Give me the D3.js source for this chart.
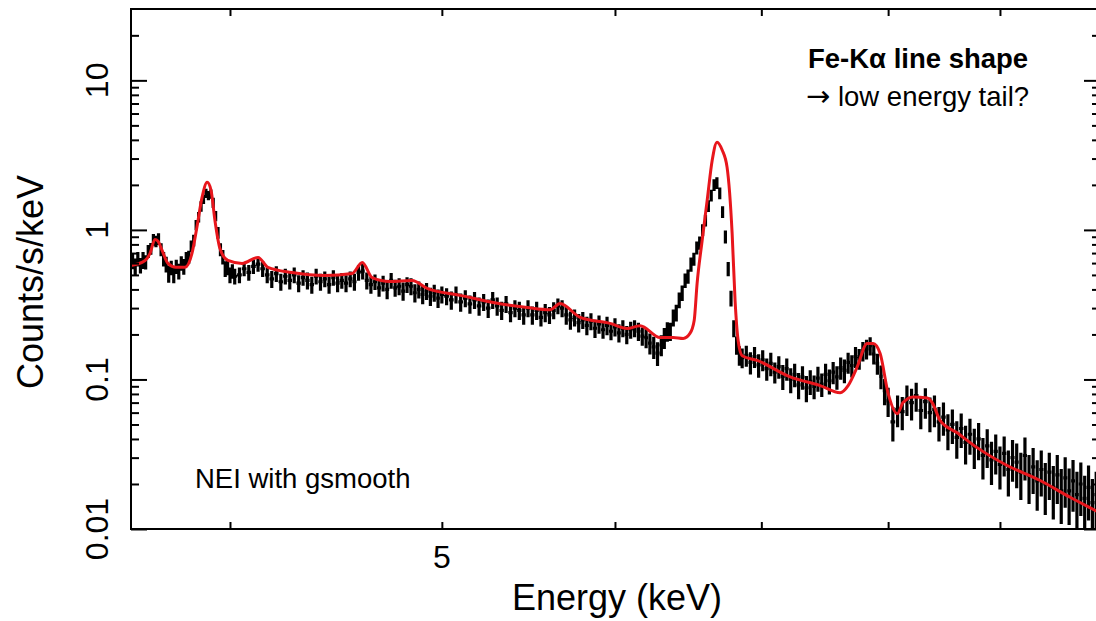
<!DOCTYPE html>
<html>
<head>
<meta charset="utf-8">
<script src="https://cdn.jsdelivr.net/npm/d3@7"></script>
<style>
  body { margin: 0; background: #fff; }
  svg { display: block; font-family: "Liberation Sans", Arial, Helvetica, sans-serif; }
</style>
</head>
<body>
<div class="spectrum"></div>
<script>
// observed spectrum (keV, counts/s/keV, relative error in %)
const energy = [
  3.61,3.62,3.63,3.64,3.65,3.66,3.67,3.68,3.69,3.70,
  3.71,3.72,3.73,3.74,3.75,3.76,3.77,3.78,3.79,3.80,
  3.81,3.82,3.83,3.84,3.85,3.86,3.87,3.88,3.89,3.90,
  3.91,3.92,3.93,3.94,3.95,3.96,3.97,3.98,3.99,4.00,
  4.01,4.02,
  4.04,4.06,4.08,4.10,4.12,4.14,4.16,4.18,4.20,4.22,4.24,4.26,
  4.28,4.30,4.32,4.34,4.36,4.38,4.40,4.42,4.44,4.46,4.48,4.50,
  4.52,4.54,4.56,4.58,4.60,4.62,4.64,4.66,4.68,4.70,4.72,4.74,4.76,
  4.78,4.80,4.82,4.84,4.86,4.88,4.90,4.92,4.94,4.96,4.98,5.00,
  5.025,5.050,5.075,5.100,5.125,5.150,5.175,5.200,5.225,5.250,
  5.275,5.300,5.325,5.350,5.375,5.400,5.425,5.450,5.475,5.500,
  5.525,5.550,5.575,5.600,5.625,5.650,5.675,5.700,5.725,5.750,
  5.775,5.800,5.825,5.850,5.875,5.900,5.925,5.950,5.975,6.000,
  6.025,6.050,6.075,6.100,6.125,6.150,6.175,6.200,6.225,6.250,
  6.275,6.300,
  6.32,6.34,6.36,6.38,6.40,6.42,6.44,6.46,6.48,6.50,
  6.52,6.54,6.56,6.58,6.60,6.62,6.64,6.66,6.68,6.70,
  6.72,6.74,6.76,6.78,6.80,6.82,6.84,6.86,
  6.89,6.92,6.95,6.98,7.01,7.04,7.07,7.10,7.13,7.16,
  7.19,7.22,7.25,7.28,7.31,7.34,7.37,7.40,7.43,7.46,
  7.49,7.52,7.55,7.58,7.61,7.64,7.67,7.70,7.73,7.76,
  7.79,7.82,7.85,7.88,7.91,7.94,7.97,8.00,
  8.04,8.08,8.12,8.16,8.20,8.24,8.28,8.32,8.36,8.40,
  8.44,8.48,8.52,8.56,8.60,8.64,8.68,8.72,8.76,8.80,
  8.84,8.88,8.92,8.96,9.00,9.04,9.08,9.12,9.16,9.20,
  9.24,9.28,9.32,9.36,9.40,9.44,9.48,9.52,9.56,9.60,
  9.64,9.68,9.72,9.76,9.80,9.84,9.88,9.92,9.96
];
const counts = [
  0.62,0.57,0.64,0.58,0.63,0.61,0.72,0.75,0.86,0.84,
  0.87,0.74,0.64,0.59,0.51,0.56,0.50,0.57,0.53,0.60,
  0.57,0.64,0.66,0.78,0.85,1.08,1.22,1.44,1.60,1.76,
  1.70,1.74,1.52,1.24,0.96,0.74,0.66,0.55,0.56,0.50,
  0.53,0.49,
  0.50,0.55,0.52,0.57,0.59,0.55,0.50,0.47,0.51,0.45,0.49,0.46,
  0.50,0.44,0.48,0.46,0.43,0.49,0.45,0.47,0.43,0.48,0.44,0.46,
  0.44,0.47,0.45,0.52,0.53,0.46,0.43,0.45,0.41,0.44,0.40,0.46,0.41,
  0.42,0.39,0.43,0.42,0.38,0.40,0.37,0.39,0.36,0.38,0.35,0.37,
  0.36,0.34,0.37,0.33,0.35,0.32,0.34,0.31,0.33,0.30,
  0.34,0.31,0.29,0.32,0.28,0.30,0.29,0.27,0.30,0.27,
  0.29,0.26,0.28,0.27,0.29,0.31,0.30,0.27,0.25,0.26,
  0.24,0.25,0.23,0.245,0.22,0.235,0.215,0.23,0.21,0.225,
  0.205,0.22,0.20,0.215,0.22,0.21,0.195,0.19,0.175,0.165,
  0.15,0.17,
  0.19,0.21,0.21,0.26,0.28,0.34,0.38,0.46,0.49,0.59,
  0.64,0.76,0.82,1.00,1.16,1.45,1.70,2.00,2.06,1.76,
  1.32,0.90,0.55,0.35,0.22,0.17,0.145,0.14,
  0.145,0.13,0.142,0.125,0.135,0.118,0.128,0.112,0.122,0.105,
  0.118,0.100,0.108,0.092,0.104,0.088,0.097,0.090,0.102,0.093,
  0.108,0.098,0.112,0.104,0.120,0.115,0.130,0.124,0.142,0.138,
  0.155,0.160,0.168,0.148,0.128,0.105,0.084,0.072,
  0.052,0.063,0.061,0.074,0.070,0.078,0.062,0.071,0.060,0.063,
  0.052,0.056,0.046,0.050,0.041,0.047,0.038,0.043,0.036,0.040,
  0.031,0.036,0.029,0.033,0.027,0.032,0.025,0.030,0.028,0.024,
  0.031,0.023,0.026,0.021,0.025,0.020,0.024,0.019,0.023,0.018,
  0.022,0.018,0.021,0.017,0.020,0.016,0.019,0.015,0.017
];
const errPct = [
  12,13,11,12,13,11,10,9,9,9,
  9,10,11,12,13,11,12,11,12,11,
  12,11,10,9,9,8,8,8,7,7,
  7,7,8,8,9,10,11,12,11,12,
  11,12,
  12,11,12,11,11,12,12,13,12,13,12,13,
  12,13,12,13,13,12,13,12,13,12,13,12,
  13,12,13,12,12,13,13,12,13,12,14,12,13,
  13,14,12,13,14,13,14,13,14,13,14,13,
  13,14,13,14,13,14,13,14,13,14,
  13,14,14,13,14,13,14,14,13,14,
  14,13,14,13,13,12,13,14,14,13,
  14,13,14,13,14,14,13,14,13,14,
  14,13,14,13,13,14,14,15,16,17,
  18,16,
  16,15,14,13,13,12,12,11,11,11,
  10,10,10,9,9,9,9,9,9,9,
  9,10,11,12,13,14,15,15,
  16,17,16,18,16,17,18,16,17,19,
  17,19,18,20,18,20,19,18,19,18,
  18,19,17,18,17,18,16,17,16,16,
  15,15,14,15,16,18,20,22,
  26,24,25,23,24,22,25,23,26,24,
  26,25,27,26,28,26,29,27,30,28,
  31,29,32,30,32,30,34,31,33,35,
  32,36,34,37,34,38,35,39,36,40,
  37,41,38,42,39,42,40,44,42
];

// NEI model folded with gsmooth
const modelEnergy = [
  3.604,3.658,3.677,3.696,3.708,3.724,3.747,3.779,3.815,3.843,
  3.863,3.884,3.905,3.921,3.937,3.958,3.991,4.051,4.120,4.163,
  4.270,4.421,4.549,4.598,4.646,4.735,4.846,4.923,5.098,5.278,
  5.470,5.604,5.663,5.784,5.969,6.077,6.161,6.292,6.379,6.447,
  6.493,6.522,6.542,6.577,6.612,6.647,6.681,6.717,6.752,6.788,
  6.809,6.831,6.860,6.969,7.216,7.447,7.606,7.670,7.743,7.825,
  7.875,7.933,8.000,8.077,8.127,8.214,8.336,8.380,8.451,8.603,
  8.786,9.068,9.389,9.690,9.960,10.0
];
const modelCounts = [
  0.578,0.625,0.696,0.864,0.84,0.729,0.597,0.562,0.562,0.696,
  1.04,1.65,2.08,1.84,1.16,0.75,0.625,0.597,0.655,0.562,
  0.519,0.496,0.511,0.606,0.48,0.452,0.459,0.406,0.365,0.327,
  0.303,0.293,0.322,0.26,0.237,0.219,0.229,0.191,0.191,0.188,
  0.203,0.248,0.438,0.85,1.58,2.92,3.86,3.42,2.62,0.947,
  0.337,0.182,0.144,0.134,0.104,0.091,0.0816,0.091,0.121,0.174,
  0.174,0.149,0.0806,0.059,0.070,0.0764,0.0751,0.0701,0.053,0.044,
  0.035,0.0266,0.0211,0.0163,0.0132,0.0128
];

const xTicks = [4, 5, 6, 7, 8, 9];
const xTickLabels = ["", "5", "", "", "", ""];
const yMajor = [0.01, 0.1, 1, 10];
const yMajorLabels = ["0.01", "0.1", "1", "10"];

const W = 1096, H = 621;
const plotLeft = 131, plotRight = 1100, plotTop = 9, plotBottom = 529;

const svg = d3.select('.spectrum')
  .append('svg')
  .attr('width', W)
  .attr('height', H);

const xScale = d3.scaleLog().domain([3.604, 10]).range([plotLeft, plotRight]);
const yScale = d3.scaleLog().domain([0.01, 30]).range([plotBottom, plotTop]);

svg.append("clipPath").attr("id", "plotclip")
  .append("rect")
  .attr("x", plotLeft).attr("y", plotTop)
  .attr("width", plotRight - plotLeft).attr("height", plotBottom - plotTop);

// data points: bin-width bars and error bars in one path
let pts = energy.map((e, i) => ({x: xScale(e), v: counts[i], err: errPct[i] / 100}));
let dpath = "";
pts.forEach((p, i) => {
  const prev = i > 0 ? pts[i - 1].x : null;
  const next = i < pts.length - 1 ? pts[i + 1].x : null;
  const hl = prev !== null ? (p.x - prev) / 2 : (next - p.x) / 2;
  const hr = next !== null ? (next - p.x) / 2 : hl;
  const yc = yScale(p.v);
  const y1 = yScale(p.v * (1 + p.err));
  const y0 = yScale(Math.max(p.v * (1 - p.err), 1e-4));
  dpath += "M" + (p.x - hl) + "," + yc + "H" + (p.x + hr);
  dpath += "M" + p.x + "," + y0 + "V" + y1;
});

const plot = svg.append("g").attr("clip-path", "url(#plotclip)");

plot.append("path")
  .attr("d", dpath)
  .attr("fill", "none")
  .attr("stroke", "#000")
  .attr("stroke-width", 3.2);

// model line
const model = modelEnergy.map((e, i) => ({e: e, v: modelCounts[i]}));
plot.append("path")
  .datum(model)
  .attr("fill", "none")
  .attr("stroke", "#e8161c")
  .attr("stroke-width", 3)
  .attr("d", d3.line()
    .x(function(d){ return xScale(d.e); })
    .y(function(d){ return yScale(d.v); })
    .curve(d3.curveMonotoneX));

// ticks on all four sides
const yMinor = yScale.ticks().filter(t => yMajor.indexOf(t) < 0 && t < 29);

function styleAxis(g) {
  g.select(".domain").remove();
  g.selectAll(".tick line").attr("stroke", "#000").attr("stroke-width", 2);
}

svg.append("g").attr("transform", "translate(0," + plotBottom + ")")
  .call(d3.axisBottom(xScale).tickValues(xTicks).tickSize(-7).tickFormat(""))
  .call(styleAxis);
svg.append("g").attr("transform", "translate(0," + plotTop + ")")
  .call(d3.axisTop(xScale).tickValues(xTicks).tickSize(-7).tickFormat(""))
  .call(styleAxis);
svg.append("g").attr("transform", "translate(" + plotLeft + ",0)")
  .call(d3.axisLeft(yScale).tickValues(yMinor).tickSize(-8).tickFormat(""))
  .call(styleAxis);
svg.append("g").attr("transform", "translate(" + plotLeft + ",0)")
  .call(d3.axisLeft(yScale).tickValues(yMajor).tickSize(-16).tickFormat(""))
  .call(styleAxis);
svg.append("g").attr("transform", "translate(" + plotRight + ",0)")
  .call(d3.axisRight(yScale).tickValues(yMinor).tickSize(-8).tickFormat(""))
  .call(styleAxis);
svg.append("g").attr("transform", "translate(" + plotRight + ",0)")
  .call(d3.axisRight(yScale).tickValues(yMajor).tickSize(-16).tickFormat(""))
  .call(styleAxis);

// frame
svg.append("rect")
  .attr("x", plotLeft).attr("y", plotTop)
  .attr("width", plotRight - plotLeft).attr("height", plotBottom - plotTop)
  .attr("fill", "none")
  .attr("stroke", "#000")
  .attr("stroke-width", 2);

// tick labels
svg.selectAll(".xlab")
  .data(xTicks)
  .enter()
  .append("text")
  .attr("class", "xlab")
  .attr("x", d => xScale(d))
  .attr("y", 568)
  .attr("text-anchor", "middle")
  .attr("font-size", 32)
  .text((d, i) => xTickLabels[i]);

svg.selectAll(".ylab")
  .data(yMajor)
  .enter()
  .append("text")
  .attr("class", "ylab")
  .attr("transform", d => "translate(108," + yScale(d) + ") rotate(-90)")
  .attr("text-anchor", "middle")
  .attr("font-size", 32)
  .text((d, i) => yMajorLabels[i]);

// axis titles
svg.append("text")
  .attr("x", 617).attr("y", 610)
  .attr("text-anchor", "middle")
  .attr("font-size", 36)
  .text("Energy (keV)");

svg.append("text")
  .attr("transform", "translate(43,282) rotate(-90)")
  .attr("text-anchor", "middle")
  .attr("font-size", 36)
  .text("Counts/s/keV");

// annotations
svg.append("text")
  .attr("x", 808).attr("y", 68)
  .attr("font-size", 27.5)
  .attr("font-weight", "bold")
  .text("Fe-Kα line shape");

const note = svg.append("text")
  .attr("x", 806).attr("y", 106)
  .attr("font-size", 27.5);
note.append("tspan")
  .attr("font-family", "DejaVu Sans")
  .attr("font-size", 29)
  .text("→");
note.append("tspan")
  .text(" low energy tail?");

svg.append("text")
  .attr("x", 195).attr("y", 488)
  .attr("font-size", 27.5)
  .text("NEI with gsmooth");
</script>
</body>
</html>
